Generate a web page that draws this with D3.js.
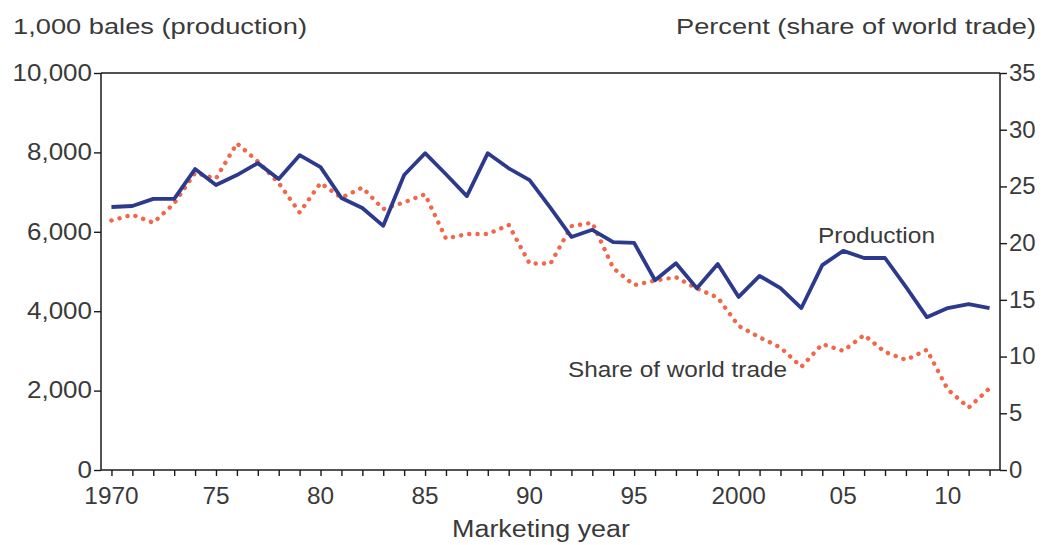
<!DOCTYPE html>
<html>
<head>
<meta charset="utf-8">
<script src="https://cdn.jsdelivr.net/npm/d3@7/dist/d3.min.js"></script>
<style>
  html, body { margin: 0; padding: 0; background: #fff; }
  svg { display: block; }
  text { font-family: "Liberation Sans", Arial, Helvetica, sans-serif; fill: #3a3a3a; }
</style>
</head>
<body>
<svg id="chart" width="1044" height="545"></svg>
<script>
const years = d3.range(1970, 2013);
const production = [6625, 6650, 6830, 6830, 7580, 7180, 7430, 7730, 7330, 7930,
  7630, 6850, 6600, 6150, 7430, 7980, 7450, 6900, 7980, 7600,
  7300, 6600, 5870, 6050, 5740, 5720, 4780, 5210, 4580, 5190,
  4360, 4890, 4580, 4080, 5160, 5520, 5340, 5340, 4610, 3850,
  4080, 4180, 4080];
const shareOfWorldTrade = [22.0, 22.5, 21.8, 23.5, 26.2, 25.7, 28.8, 27.2, 25.3, 22.7,
  25.3, 24.0, 24.9, 23.0, 23.6, 24.3, 20.4, 20.8, 20.8, 21.6,
  18.2, 18.2, 21.5, 21.8, 17.8, 16.3, 16.7, 17.0, 16.0, 15.2,
  12.7, 11.7, 10.8, 9.1, 11.1, 10.5, 11.9, 10.4, 9.7, 10.6,
  7.1, 5.5, 7.2];
const leftTicks = [0, 2000, 4000, 6000, 8000, 10000];
const rightTicks = [0, 5, 10, 15, 20, 25, 30, 35];
const xLabelYears = [1970, 1975, 1980, 1985, 1990, 1995, 2000, 2005, 2010];
const xLabelText = ["1970", "75", "80", "85", "90", "95", "2000", "05", "10"];

const svg = d3.select("#chart");
const L = 101, R = 1000, T = 73, B = 470;

const x = d3.scaleLinear().domain([1969.5, 2012.5]).range([L, R]);
const yL = d3.scaleLinear().domain([0, 10000]).range([B, T]);
const yR = d3.scaleLinear().domain([0, 35]).range([B, T]);

const axisColor = "#1a1a1a";
const textColor = "#3a3a3a";

function stretch(sel, factor) {
  sel.each(function () {
    const w = this.getComputedTextLength();
    d3.select(this).attr("textLength", w * factor).attr("lengthAdjust", "spacingAndGlyphs");
  });
}
function fitWidth(sel, width) {
  sel.attr("textLength", width).attr("lengthAdjust", "spacingAndGlyphs");
}

// top frame line
svg.append("line").attr("x1", L).attr("x2", R).attr("y1", T).attr("y2", T)
  .attr("stroke", axisColor).attr("stroke-width", 1.5);

// left axis
const gL = svg.append("g").attr("transform", `translate(${L},0)`)
  .call(d3.axisLeft(yL).tickValues(leftTicks).tickSize(7).tickPadding(2)
    .tickFormat(d3.format(",")));
// right axis
const gR = svg.append("g").attr("transform", `translate(${R},0)`)
  .call(d3.axisRight(yR).tickValues(rightTicks).tickSize(7).tickPadding(2)
    .tickFormat(d3.format("d")));
// bottom axis
const gB = svg.append("g").attr("transform", `translate(0,${B})`)
  .call(d3.axisBottom(x).tickValues(years).tickSize(6).tickFormat(""));

[gL, gR, gB].forEach(g => {
  g.select(".domain").attr("stroke", axisColor).attr("stroke-width", 1.5);
  g.selectAll(".tick line").attr("stroke", axisColor).attr("stroke-width", 1.4);
  g.selectAll(".tick text").attr("font-size", 23)
    .attr("font-family", "'Liberation Sans', Arial, sans-serif").attr("fill", textColor);
});
gL.select(".domain").attr("d", `M0,${B}V${T}`);
gR.select(".domain").attr("d", `M0,${B}V${T}`);
gB.select(".domain").attr("d", `M${L},0H${R}`);
stretch(gL.selectAll(".tick text"), 1.13);
stretch(gR.selectAll(".tick text"), 1.04);

// x labels
const xl = svg.append("g").selectAll("text").data(xLabelYears).join("text")
  .attr("x", d => x(d)).attr("y", 504)
  .attr("text-anchor", "middle").attr("font-size", 23)
  .text((d, i) => xLabelText[i]);
stretch(xl, 1.06);

// lines
const lineP = d3.line().x((d, i) => x(years[i])).y(d => yL(d));
const lineS = d3.line().x((d, i) => x(years[i])).y(d => yR(d));

svg.append("path").datum(shareOfWorldTrade)
  .attr("d", lineS).attr("fill", "none")
  .attr("stroke", "#f0674a").attr("stroke-width", 4.4)
  .attr("stroke-linecap", "round").attr("stroke-dasharray", "0.1 8.2");

svg.append("path").datum(production)
  .attr("d", lineP).attr("fill", "none")
  .attr("stroke", "#2c3a8e").attr("stroke-width", 3.8)
  .attr("stroke-linejoin", "round");

// titles
fitWidth(svg.append("text").attr("x", 13).attr("y", 34).attr("font-size", 22)
  .text("1,000 bales (production)"), 294);
fitWidth(svg.append("text").attr("x", 1036).attr("y", 34).attr("font-size", 22)
  .attr("text-anchor", "end").text("Percent (share of world trade)"), 360);
fitWidth(svg.append("text").attr("x", 541).attr("y", 537).attr("font-size", 23)
  .attr("text-anchor", "middle").text("Marketing year"), 178);

// annotations
fitWidth(svg.append("text").attr("x", 818).attr("y", 243).attr("font-size", 22)
  .text("Production"), 117);
fitWidth(svg.append("text").attr("x", 568).attr("y", 377).attr("font-size", 22)
  .text("Share of world trade"), 219);
</script>
</body>
</html>
